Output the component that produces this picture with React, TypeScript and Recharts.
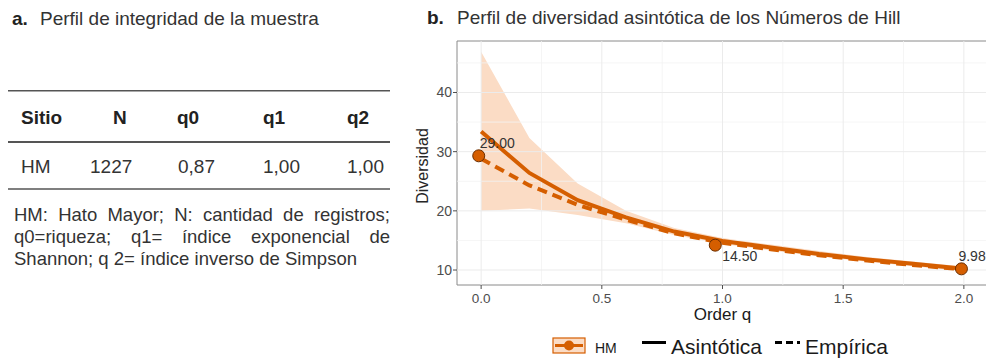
import React from 'react';
import {
  ComposedChart,
  Line,
  Area,
  Scatter,
  XAxis,
  YAxis,
  ReferenceLine,
  ReferenceArea,
} from 'recharts';

// ---- data ----
const qOrder = [0, 0.2, 0.4, 0.6, 0.8, 1.0, 1.2, 1.4, 1.6, 1.8, 2.0];
const asintotica = [33.4, 26.4, 21.8, 18.9, 16.5, 14.9, 13.8, 12.7, 11.8, 11.0, 10.2];
const empirica = [28.8, 24.3, 21.0, 18.5, 16.2, 14.6, 13.5, 12.5, 11.6, 10.8, 10.1];
const ciLower = [20.0, 20.4, 19.3, 17.9, 15.9, 14.4, 13.3, 12.3, 11.4, 10.6, 9.8];
const ciUpper = [46.9, 32.3, 24.6, 20.0, 17.1, 15.4, 14.3, 13.2, 12.2, 11.4, 10.6];

const pointQ = [-0.01, 0.97, 1.99];
const pointValues = [29.3, 14.2, 10.2];
const pointLabels = ['29.00', '14.50', '9.98'];

const xTicks = [0, 0.5, 1.0, 1.5, 2.0];
const xMinor = [0.25, 0.75, 1.25, 1.75];
const yTicks = [10, 20, 30, 40];
const yMinor = [15, 25, 35, 45];
const xDomain: [number, number] = [-0.1, 2.1];
const yDomain: [number, number] = [7.47, 48.7];

const tableHeaders = ['Sitio', 'N', 'q0', 'q1', 'q2'];
const tableRow = ['HM', '1227', '0,87', '1,00', '1,00'];

const titleA = 'Perfil de integridad de la muestra';
const titleB = 'Perfil de diversidad asintótica de los Números de Hill';
const noteText =
  'HM: Hato Mayor; N: cantidad de registros; q0=riqueza; q1= índice exponencial de Shannon; q 2= índice inverso de Simpson';

const legendSite = 'HM';
const legendAsy = 'Asintótica';
const legendEmp = 'Empírica';

// ---- tables built from arrays ----
const curveData = qOrder.map((q, i) => ({
  q,
  asy: asintotica[i],
  emp: empirica[i],
  range: [ciLower[i], ciUpper[i]],
}));
const pointData = pointQ.map((q, i) => ({ q, v: pointValues[i], i }));

const ORANGE = '#D55E00';
const BAND = '#FBDCC5';
const FONT = '"Liberation Sans", Arial, Helvetica, sans-serif';

const headerX = [21, 113, 177, 263, 347];
const rowX = [21, 90, 178, 263, 347];
const labelOffsets = [
  { dx: 1, dy: -8 },
  { dx: 7, dy: 16 },
  { dx: -3, dy: -8 },
];

const PointShape = (props: any) => {
  const { cx, cy, payload } = props;
  if (cx == null || cy == null) return null;
  const idx = payload?.i ?? 0;
  const off = labelOffsets[idx];
  return (
    <g>
      <circle cx={cx} cy={cy} r={6} fill={ORANGE} stroke="#6b2e00" strokeWidth={1} />
      <text x={cx + off.dx} y={cy + off.dy} fontSize={14} fill="#333" fontFamily={FONT}>
        {pointLabels[idx]}
      </text>
    </g>
  );
};

const YLabel = (props: any) => {
  const vb = props.viewBox || { x: 0, y: 0, width: 0, height: 0 };
  const cx = vb.x + 22;
  const cy = vb.y + vb.height / 2 + 3;
  return (
    <text
      x={cx}
      y={cy}
      transform={`rotate(-90, ${cx}, ${cy})`}
      textAnchor="middle"
      dominantBaseline="central"
      fontSize={16}
      fill="#262626"
      fontFamily={FONT}
    >
      Diversidad
    </text>
  );
};

export default function App() {
  return (
    <div
      style={{
        position: 'absolute',
        left: 0,
        top: 0,
        width: 986,
        height: 360,
        overflow: 'hidden',
        background: '#fff',
        fontFamily: FONT,
      }}
    >
      <svg width={986} height={360} style={{ position: 'absolute', left: 0, top: 0 }}>
        {/* Titles */}
        <text x={12} y={25} fontSize={19} fontWeight="bold" fill="#222">a.</text>
        <text x={40} y={25} fontSize={19} fill="#333">{titleA}</text>
        <text x={427} y={24} fontSize={19} fontWeight="bold" fill="#222">b.</text>
        <text x={457} y={24} fontSize={19} fill="#333">{titleB}</text>

        {/* Table rules */}
        <line x1={8} x2={390} y1={90.7} y2={90.7} stroke="#555" strokeWidth={1.5} />
        <line x1={8} x2={390} y1={142} y2={142} stroke="#555" strokeWidth={2} />
        <line x1={8} x2={390} y1={189} y2={189} stroke="#555" strokeWidth={1.5} />
        {tableHeaders.map((h, i) => (
          <text key={h} x={headerX[i]} y={124} fontSize={19} fontWeight="bold" fill="#222">
            {h}
          </text>
        ))}
        {tableRow.map((c, i) => (
          <text key={i} x={rowX[i]} y={173} fontSize={19} fill="#333">
            {c}
          </text>
        ))}

        {/* Legend */}
        <rect x={553} y={338} width={32} height={15} fill={BAND} stroke={ORANGE} strokeWidth={1.2} />
        <line x1={555} x2={583} y1={345.5} y2={345.5} stroke={ORANGE} strokeWidth={3} />
        <circle cx={569} cy={345.5} r={5} fill={ORANGE} />
        <text x={595} y={352.7} fontSize={14} fill="#1a1a1a">{legendSite}</text>
        <line x1={642} x2={666} y1={342.5} y2={342.5} stroke="#000" strokeWidth={3} />
        <text x={671} y={354.3} fontSize={21} fill="#1a1a1a">{legendAsy}</text>
        <line x1={775} x2={800} y1={342.5} y2={342.5} stroke="#000" strokeWidth={3} strokeDasharray="7 4" />
        <text x={805} y={354.3} fontSize={21} fill="#1a1a1a">{legendEmp}</text>
      </svg>

      <div
        style={{
          position: 'absolute',
          left: 14,
          top: 203.5,
          width: 376,
          fontSize: 18.5,
          lineHeight: '22px',
          textAlign: 'justify',
          color: '#333',
        }}
      >
        {noteText}
      </div>

      <div style={{ position: 'absolute', left: 400, top: 0 }}>
        <ComposedChart
          width={588}
          height={360}
          data={curveData}
          margin={{ top: 41, right: 0, bottom: 0, left: 0 }}
        >
          <XAxis
            type="number"
            dataKey="q"
            domain={xDomain}
            ticks={xTicks}
            interval={0}
            allowDataOverflow
            height={75}
            axisLine={false}
            tickLine={{ stroke: '#4d4d4d' }}
            tickSize={4}
            tickMargin={4}
            tick={{ fill: '#4d4d4d', fontSize: 13.5 }}
            tickFormatter={(v: number) => v.toFixed(1)}
            label={{ value: 'Order q', position: 'insideTop', offset: 23, fill: '#1a1a1a', fontSize: 17 }}
          />
          <YAxis
            type="number"
            domain={yDomain}
            ticks={yTicks}
            interval={0}
            allowDataOverflow
            width={57}
            axisLine={false}
            tickLine={{ stroke: '#4d4d4d' }}
            tickSize={4}
            tickMargin={1}
            tick={{ fill: '#4d4d4d', fontSize: 14 }}
            label={<YLabel />}
          />
          {xMinor.map((v) => (
            <ReferenceLine key={'xm' + v} x={v} stroke="#f3f3f3" strokeWidth={0.8} />
          ))}
          {yMinor.map((v) => (
            <ReferenceLine key={'ym' + v} y={v} stroke="#f3f3f3" strokeWidth={0.8} />
          ))}
          {xTicks.map((v) => (
            <ReferenceLine key={'x' + v} x={v} stroke="#ebebeb" strokeWidth={1} />
          ))}
          {yTicks.map((v) => (
            <ReferenceLine key={'y' + v} y={v} stroke="#ebebeb" strokeWidth={1} />
          ))}
          <Area
            type="linear"
            dataKey="range"
            stroke="none"
            fill={BAND}
            fillOpacity={1}
            isAnimationActive={false}
          />
          <Line
            type="linear"
            dataKey="emp"
            stroke={ORANGE}
            strokeWidth={4}
            strokeDasharray="10 6"
            dot={false}
            isAnimationActive={false}
          />
          <Line
            type="linear"
            dataKey="asy"
            stroke={ORANGE}
            strokeWidth={4}
            dot={false}
            isAnimationActive={false}
          />
          <Scatter data={pointData} dataKey="v" shape={<PointShape />} isAnimationActive={false} />
          <ReferenceArea
            x1={xDomain[0]}
            x2={xDomain[1]}
            y1={yDomain[0]}
            y2={yDomain[1]}
            fill="none"
            fillOpacity={0}
            stroke="#8a8a8a"
            strokeWidth={1}
            ifOverflow="visible"
          />
        </ComposedChart>
      </div>
    </div>
  );
}
